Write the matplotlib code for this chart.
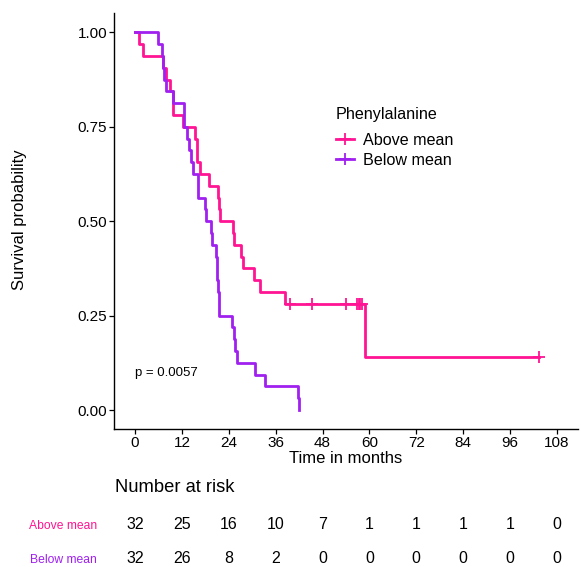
import matplotlib
matplotlib.use("Agg")
import matplotlib.pyplot as plt
from matplotlib.lines import Line2D

plt.rcParams['font.family'] = ['Liberation Sans', 'DejaVu Sans']

# follow-up in months, status 1 = death, 0 = censored
time_above = [1.1, 2.0, 7.1, 7.8, 9.0, 9.7, 9.8, 12.3, 15.4, 15.9, 15.95, 16.5,
              18.8, 21.3, 21.6, 21.8, 25.1, 25.2, 27.2, 27.6, 30.4, 32.0, 38.3,
              39.6, 45.4, 54.1, 56.9, 57.3, 57.6, 58.0, 58.8, 103.3]
status_above = [1] * 23 + [0] * 7 + [1, 0]

time_below = [5.85, 6.9, 7.2, 7.5, 7.8, 9.7, 12.5, 12.55, 13.4, 13.7, 14.4, 14.8,
              16.1, 16.15, 17.8, 18.1, 19.5, 19.7, 20.6, 20.9, 21.0, 21.2, 21.4,
              21.6, 24.7, 25.2, 25.6, 26.0, 30.6, 33.2, 41.7, 41.9]
status_below = [1] * 32

groups = ['Above mean', 'Below mean']
colors = ['#FF1493', '#A020F0']

risk_times = [0, 12, 24, 36, 48, 60, 72, 84, 96, 108]
risk_above = [32, 25, 16, 10, 7, 1, 1, 1, 1, 0]
risk_below = [32, 26, 8, 2, 0, 0, 0, 0, 0, 0]

p_text = 'p = 0.0057'


def kaplan_meier(times, status):
    data = sorted(zip(times, status))
    n = len(data)
    s = 1.0
    xs, ys = [0.0], [1.0]
    cens_x, cens_y = [], []
    i = 0
    while i < len(data):
        t = data[i][0]
        d = sum(1 for tt, st in data if tt == t and st == 1)
        c = sum(1 for tt, st in data if tt == t and st == 0)
        if d:
            s *= (n - d) / n
        xs.append(t)
        ys.append(s)
        if c:
            cens_x.append(t)
            cens_y.append(s)
        n -= d + c
        i += d + c
    return xs, ys, cens_x, cens_y


W, H = 581, 567
fig = plt.figure(figsize=(W / 100, H / 100), dpi=100)
ax = fig.add_axes([114 / W, 1 - 429 / H, 464 / W, 415.6 / H])

curves = [(time_above, status_above), (time_below, status_below)]
for (t, st), col in zip(curves, colors):
    xs, ys, cx, cy = kaplan_meier(t, st)
    ax.step(xs, ys, where='post', color=col, lw=2)
    ax.plot(cx, cy, ls='none', marker='+', ms=8, mew=1.3, color=col)

ax.set_xlim(-5.4, 113.4)
ax.set_ylim(-0.05, 1.05)
ax.set_xticks(risk_times)
ax.set_yticks([0, 0.25, 0.5, 0.75, 1.0])
ax.set_yticklabels(['0.00', '0.25', '0.50', '0.75', '1.00'])
ax.tick_params(labelsize=11, length=3.5, width=0.9, color='black', labelcolor='black', pad=1.5)
for side in ['top', 'right']:
    ax.spines[side].set_visible(False)
for side in ['left', 'bottom']:
    ax.spines[side].set_linewidth(1)
ax.set_xlabel('Time in months', fontsize=12, labelpad=1)
fig.text(20 / W, 1 - 220 / H, 'Survival probability', rotation=90,
         ha='center', va='center', fontsize=12)

ax.text(0, 0.097, p_text, ha='left', va='center', fontsize=9.5)

# legend: title drawn separately to get the ggplot gap
fig.text(336 / W, 1 - 115 / H, 'Phenylalanine', ha='left', va='center', fontsize=11.6)
handles = [Line2D([], [], color=c, lw=2, marker='+', ms=8, mew=1.3) for c in colors]
leg = ax.legend(handles, groups, loc='upper left',
                bbox_to_anchor=(336 / W, 1 - 133 / H), bbox_transform=fig.transFigure,
                frameon=False, fontsize=11.6, handlelength=1.1,
                handletextpad=0.6, labelspacing=0.3, borderpad=0, borderaxespad=0)

# risk table
fig.text(115 / W, 1 - 488 / H, 'Number at risk', ha='left', va='center', fontsize=13.2)
rt = fig.add_axes([114 / W, 0, 464 / W, 60 / H])
rt.set_xlim(-5.4, 113.4)
rt.set_ylim(-0.229, 1.486)
for x, a, b in zip(risk_times, risk_above, risk_below):
    rt.text(x, 1, str(a), ha='center', va='center', fontsize=11.5)
    rt.text(x, 0, str(b), ha='center', va='center', fontsize=11.5)
rt.set_yticks([1, 0])
rt.set_yticklabels(groups)
for lab, c in zip(rt.get_yticklabels(), colors):
    lab.set_color(c)
rt.tick_params(axis='y', length=0, labelsize=8.7, pad=12.5)
rt.set_xticks([])
for s in rt.spines.values():
    s.set_visible(False)
rt.patch.set_alpha(0)

fig.savefig('out.png', dpi=100)
